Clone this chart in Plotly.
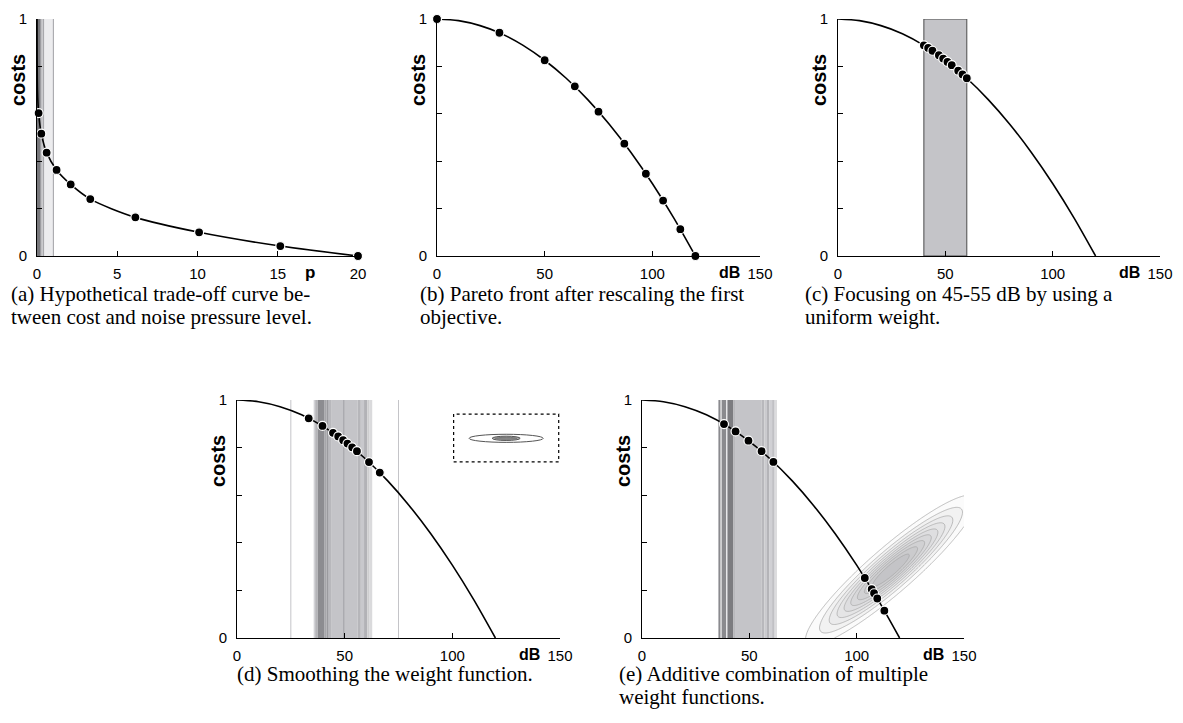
import numpy as np
import plotly.graph_objects as go

# ---------------- data ----------------
# (a) trade-off curve: pressure p vs costs
a_curve_p = [0, 0.03, 0.1, 0.27, 0.6, 1.22, 2.1, 3.32, 6.13, 10.1, 15.16, 20]
a_curve_cost = [1.0, 0.70, 0.603, 0.516, 0.436, 0.363, 0.302, 0.24, 0.163, 0.1, 0.042, 0.0]
a_pts_p = [0.1, 0.27, 0.6, 1.22, 2.1, 3.32, 6.13, 10.1, 15.16, 20]
a_pts_cost = [0.603, 0.516, 0.436, 0.363, 0.302, 0.24, 0.163, 0.1, 0.042, 0.0]
a_stripe_lo = [0.0, 0.19, 0.29, 0.36, 0.46]
a_stripe_hi = [0.19, 0.29, 0.36, 0.46, 1.02]

# Pareto front (dB vs costs), shared by (b)-(e)
front_db = [0, 10, 20, 30, 40, 50, 60, 70, 80, 90, 100, 110, 120]
front_cost = [1.0, 0.993, 0.972, 0.938, 0.889, 0.826, 0.750, 0.660, 0.556, 0.438, 0.306, 0.160, 0.0]

b_pts_db = [0, 29, 50, 64, 75, 87, 97, 105, 113, 120]
b_pts_cost = [1.0, 0.942, 0.826, 0.716, 0.609, 0.474, 0.347, 0.234, 0.113, 0.0]

c_pts_db = [40, 42, 44, 47, 49, 51, 53, 56, 58, 60]
c_pts_cost = [0.889, 0.878, 0.866, 0.847, 0.833, 0.819, 0.805, 0.782, 0.766, 0.750]
c_band = [40, 60]

d_pts_db = [33.3, 39.7, 44.6, 47, 49.3, 51.3, 53.5, 55.7, 61.3, 66.3]
d_pts_cost = [0.923, 0.891, 0.862, 0.847, 0.831, 0.817, 0.801, 0.785, 0.739, 0.695]
d_stripe_lo = [35.6, 36.3, 37.5, 40.7, 41.6, 42.6, 44.0, 56.0, 57.5, 59.0, 60.5, 61.6]
d_stripe_hi = [36.3, 37.5, 40.7, 41.6, 42.6, 44.0, 56.0, 57.5, 59.0, 60.5, 61.6, 62.8]
d_thin_lines = [25, 75, 49.6]
# inset: weight function in objective space
d_inset_box = [100.6, 149.4, 0.740, 0.941]
d_inset_center = [125.0, 0.839]
d_inset_halfx = [17.2, 6.5, 5.0]
d_inset_halfy = [0.017, 0.009, 0.004]

e_pts_db = [38.2, 43.6, 49.6, 55.7, 61.2, 103.8, 107.0, 108.1, 109.6, 112.9]
e_pts_cost = [0.899, 0.868, 0.829, 0.785, 0.740, 0.252, 0.205, 0.188, 0.166, 0.115]
e_stripe_lo = [35.6, 36.6, 37.2, 39.2, 39.8, 42.6, 43.7, 55.8, 57.0, 58.2, 59.4, 60.6, 61.8]
e_stripe_hi = [36.6, 37.2, 39.2, 39.8, 42.6, 43.7, 55.8, 57.0, 58.2, 59.4, 60.6, 61.8, 62.9]
# second weight: 2-D Gaussian (centre in data units, spreads/angle in screen terms)
e_gauss_center = [116.0, 0.285]
e_gauss_sigma_px = [52.0, 10.5]
e_gauss_angle_deg = 41.0
e_contour_levels = [0.1, 0.9, 0.1]

captions = {
    "a": ["(a) Hypothetical trade-off curve be-", "tween cost and noise pressure level."],
    "b": ["(b) Pareto front after rescaling the first", "objective."],
    "c": ["(c) Focusing on 45-55 dB by using a", "uniform weight."],
    "d": ["(d) Smoothing the weight function."],
    "e": ["(e) Additive combination of multiple", "weight functions."],
}

# ---------------- styles / layout ----------------
W, H = 1183, 723
OFF = 8  # page body margin: figure pixels are drawn 8px right/down of page pixels

a_stripe_col = ["#77777b", "#98989c", "#c8c8cc", "#a8a8ac", "#ececee"]
d_stripe_col = ["#d2d2d6", "#b4b4b8", "#8c8c90", "#a6a6aa", "#9a9a9e", "#b8b8bc", "#c4c4c8",
                "#b6b6ba", "#c8c8cc", "#b2b2b6", "#cececf", "#dadadc"]
e_stripe_col = ["#8a8a8e", "#d4d4d6", "#8a8a8e", "#e6e6e8", "#7c7c80", "#b8b8bc", "#c4c4c8",
                "#b8b8bc", "#cacace", "#b4b4b8", "#d0d0d4", "#c0c0c4", "#dcdcde"]

TICKFONT = dict(family="Liberation Sans", size=15, color="black")
LABFONT = dict(family="Liberation Sans", size=20, color="black")
CAPFONT = dict(family="Liberation Serif", size=21, color="black")

# plot area boxes in page pixels: left, right, top, bottom
boxes = {
    "a": (37, 358, 19, 256),
    "b": (437, 760, 19, 256),
    "c": (838, 1160, 19, 256),
    "d": (237, 560, 400, 638),
    "e": (642, 964, 400, 638),
}
names = ["a", "b", "c", "d", "e"]


def px2x(px):
    return (px - OFF) / W


def py2y(py):
    return 1 - (py - OFF) / H


fig = go.Figure()
shapes = []
annotations = []


def ax_ids(i):
    s = "" if i == 0 else str(i + 1)
    return "x" + s, "y" + s, "xaxis" + s, "yaxis" + s


def add_rects(xref, yref, lo, hi, cols):
    for x0, x1, c in zip(lo, hi, cols):
        shapes.append(dict(type="rect", xref=xref, yref=yref, x0=x0, x1=x1, y0=0, y1=1,
                           fillcolor=c, line=dict(width=0), layer="below"))


layout_axes = {}
for i, n in enumerate(names):
    xr, yr, xk, yk = ax_ids(i)
    l, r, t, b = boxes[n]
    if n == "a":
        xt = [0, 5, 10, 15, 20]
        xrange = [0, 20]
    else:
        xt = [0, 50, 100, 150]
        xrange = [0, 150]
    layout_axes[xk] = dict(domain=[px2x(l), px2x(r)], range=xrange, anchor=yr, tickvals=xt,
                           ticktext=[str(v) for v in xt], ticks="inside", ticklen=5,
                           tickcolor="black", showline=True, linecolor="black", linewidth=1,
                           showgrid=False, zeroline=False, tickfont=TICKFONT,
                           ticklabelstandoff=4, fixedrange=True, automargin=False)
    layout_axes[yk] = dict(domain=[py2y(b), py2y(t)], range=[0, 1], anchor=xr,
                           tickvals=[0, 0.2, 0.4, 0.6, 0.8, 1],
                           ticktext=["0", "", "", "", "", "1"], ticks="inside", ticklen=5,
                           tickcolor="black", showline=True, linecolor="black", linewidth=1,
                           showgrid=False, zeroline=False, tickfont=TICKFONT,
                           ticklabelstandoff=6, fixedrange=True, automargin=False)
    # y label "costs"
    annotations.append(dict(text="<b>costs</b>", xref="paper", yref="paper",
                            x=px2x(l - 19), y=py2y(t + 61), textangle=-90,
                            showarrow=False, font=LABFONT, xanchor="center", yanchor="middle"))
    # x label
    if n == "a":
        annotations.append(dict(text="<b>p</b>", xref=xr, yref="paper", x=17.0,
                                y=py2y(b + 16), showarrow=False,
                                font=dict(family="Liberation Sans", size=17, color="black"),
                                xanchor="center", yanchor="middle"))
    else:
        annotations.append(dict(text="<b>dB</b>", xref=xr, yref="paper", x=136.0,
                                y=py2y(b + 16), showarrow=False,
                                font=dict(family="Liberation Sans", size=16, color="black"),
                                xanchor="center", yanchor="middle"))

# ---- stripes / bands ----
add_rects("x", "y", a_stripe_lo, a_stripe_hi, a_stripe_col)
shapes.append(dict(type="line", xref="x", yref="y", x0=a_stripe_hi[-1], x1=a_stripe_hi[-1],
                   y0=0, y1=1, line=dict(color="#a0a0a4", width=1), layer="below"))

shapes.append(dict(type="rect", xref="x3", yref="y3", x0=c_band[0], x1=c_band[1], y0=0, y1=1,
                   fillcolor="#c4c4c8", line=dict(color="#4a4a4a", width=1), layer="below"))

add_rects("x4", "y4", d_stripe_lo, d_stripe_hi, d_stripe_col)
for xv in d_thin_lines:
    shapes.append(dict(type="line", xref="x4", yref="y4", x0=xv, x1=xv, y0=0, y1=1,
                       line=dict(color="#c4c4c8" if xv != 49.6 else "#a2a2a6", width=1),
                       layer="below"))

add_rects("x5", "y5", e_stripe_lo, e_stripe_hi, e_stripe_col)

# ---- inset in (d) ----
bx0, bx1, by0, by1 = d_inset_box
shapes.append(dict(type="rect", xref="x4", yref="y4", x0=bx0, x1=bx1, y0=by0, y1=by1,
                   line=dict(color="black", width=1.2, dash="dot"), fillcolor="rgba(0,0,0,0)"))
inset_fill = ["rgba(0,0,0,0)", "#b0b0b0", "#8a8a8a"]
inset_line = ["#555555", "#555555", "#777777"]
for hx, hy, fc, lc in zip(d_inset_halfx, d_inset_halfy, inset_fill, inset_line):
    shapes.append(dict(type="circle", xref="x4", yref="y4",
                       x0=d_inset_center[0] - hx, x1=d_inset_center[0] + hx,
                       y0=d_inset_center[1] - hy, y1=d_inset_center[1] + hy,
                       line=dict(color=lc, width=1), fillcolor=fc))

# ---- (e) Gaussian weight contours ----
l, r, t, b = boxes["e"]
px_per_x = (r - l) / 150.0
px_per_y = (b - t) / 1.0
gx = np.linspace(60, 150, 241)
gy = np.linspace(0, 1, 241)
GX, GY = np.meshgrid(gx, gy)
dxp = (GX - e_gauss_center[0]) * px_per_x
dyp = (GY - e_gauss_center[1]) * px_per_y
th = np.deg2rad(e_gauss_angle_deg)
ua = dxp * np.cos(th) + dyp * np.sin(th)
ub = -dxp * np.sin(th) + dyp * np.cos(th)
Z = np.exp(-0.5 * ((ua / e_gauss_sigma_px[0]) ** 2 + (ub / e_gauss_sigma_px[1]) ** 2))
fig.add_trace(go.Contour(
    x=gx, y=gy, z=Z, xaxis="x5", yaxis="y5", showscale=False, hoverinfo="skip",
    zauto=False, zmin=0, zmax=1,
    contours=dict(start=e_contour_levels[0], end=e_contour_levels[1], size=e_contour_levels[2],
                  coloring="fill"),
    colorscale=[[0, "rgba(255,255,255,0)"], [0.09, "rgba(255,255,255,0)"],
                [0.12, "rgb(248,248,248)"], [1, "rgb(196,196,199)"]],
    line=dict(color="rgb(165,165,165)", width=0.7),
))

# ---- curves and points ----
curve_sets = [
    ("x", "y", a_curve_p, a_curve_cost, a_pts_p, a_pts_cost),
    ("x2", "y2", front_db, front_cost, b_pts_db, b_pts_cost),
    ("x3", "y3", front_db, front_cost, c_pts_db, c_pts_cost),
    ("x4", "y4", front_db, front_cost, d_pts_db, d_pts_cost),
    ("x5", "y5", front_db, front_cost, e_pts_db, e_pts_cost),
]
for xr, yr, cx, cy, px, py in curve_sets:
    fig.add_trace(go.Scatter(x=cx, y=cy, xaxis=xr, yaxis=yr, mode="lines",
                             line=dict(color="black", width=1.6, shape="spline", smoothing=0.8),
                             hoverinfo="skip", cliponaxis=False))
    fig.add_trace(go.Scatter(x=px, y=py, xaxis=xr, yaxis=yr, mode="markers",
                             marker=dict(color="black", size=9,
                                         line=dict(color="white", width=1.2)),
                             cliponaxis=False))

# ---- captions ----
cap_pos = {"a": (9, 294), "b": (418, 294), "c": (803, 294), "d": (235, 674), "e": (617, 674)}
for n in names:
    x0, y0 = cap_pos[n]
    for k, line in enumerate(captions[n]):
        annotations.append(dict(text=line, xref="paper", yref="paper", x=px2x(x0),
                                y=py2y(y0 + 23 * k), showarrow=False, font=CAPFONT,
                                xanchor="left", yanchor="middle"))

fig.update_layout(width=W, height=H,
                  margin=dict(l=0, r=0, t=0, b=0, pad=0, autoexpand=False),
                  paper_bgcolor="white", plot_bgcolor="white", showlegend=False,
                  shapes=shapes, annotations=annotations, **layout_axes)
fig.write_html("out.html")
